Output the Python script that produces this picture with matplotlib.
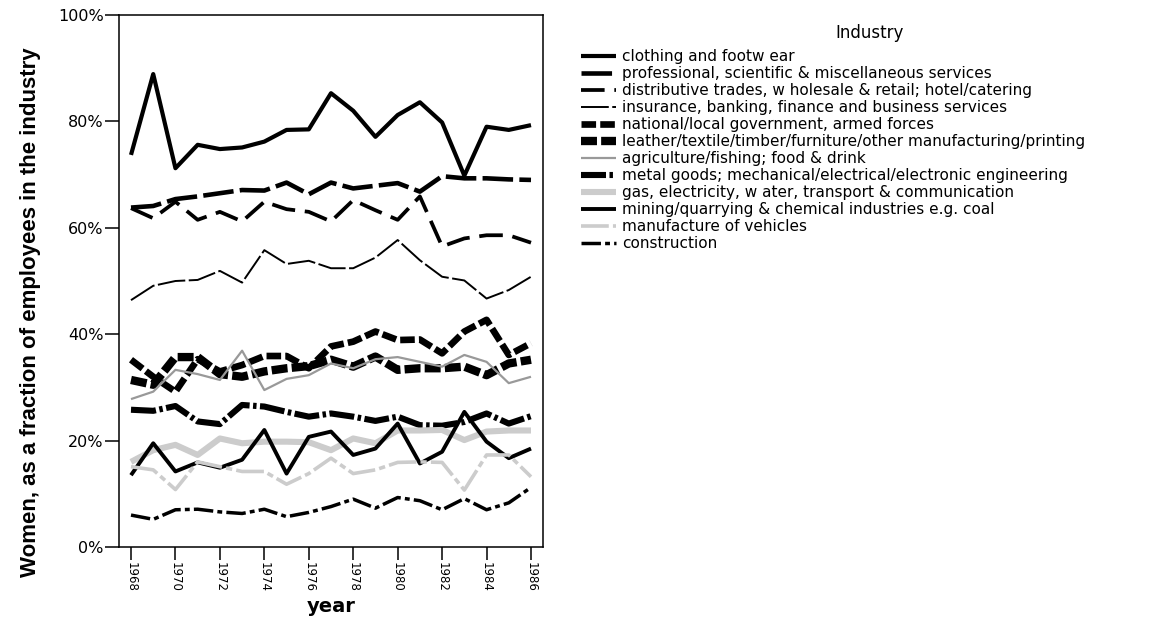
import matplotlib
matplotlib.use("Agg")
import matplotlib.pyplot as plt
from matplotlib.ticker import FuncFormatter, MultipleLocator

plt.rcParams['lines.scale_dashes'] = False
plt.rcParams['font.family'] = ['DejaVu Sans']

years = list(range(1968, 1987))

clothing = [73.7, 88.9, 71.2, 75.6, 74.8, 75.1, 76.2, 78.4, 78.5, 85.3, 82.0, 77.1, 81.2, 83.6, 79.8, 69.8, 79.0, 78.4, 79.3]
professional = [63.8, 64.1, 65.4, 65.9, 66.5, 67.1, 67.0, 68.5, 66.3, 68.5, 67.4, 67.9, 68.4, 66.8, 69.7, 69.3, 69.3, 69.1, 69.0]
distributive = [63.7, 61.8, 64.9, 61.5, 63.0, 61.2, 64.9, 63.5, 63.0, 61.2, 65.2, 63.3, 61.5, 65.9, 56.5, 58.0, 58.6, 58.6, 57.2]
insurance = [46.4, 49.1, 50.0, 50.2, 51.9, 49.7, 55.8, 53.2, 53.8, 52.4, 52.4, 54.4, 57.7, 53.9, 50.8, 50.1, 46.7, 48.3, 50.8]
national = [35.2, 32.0, 29.2, 35.3, 33.0, 34.2, 35.9, 35.9, 33.6, 37.7, 38.6, 40.5, 38.9, 39.0, 36.4, 40.5, 42.7, 36.1, 38.3]
leather = [31.4, 30.5, 35.7, 35.7, 32.5, 32.0, 33.0, 33.6, 34.0, 35.2, 33.9, 35.8, 33.3, 33.6, 33.6, 33.9, 32.3, 34.5, 35.2]
agriculture = [27.8, 29.2, 33.3, 32.5, 31.4, 36.9, 29.5, 31.6, 32.3, 34.5, 33.6, 35.3, 35.7, 34.8, 33.9, 36.1, 34.8, 30.8, 32.0]
metal = [25.8, 25.6, 26.5, 23.6, 23.1, 26.7, 26.4, 25.4, 24.5, 25.1, 24.5, 23.7, 24.5, 22.9, 22.8, 23.5, 25.1, 23.2, 24.6]
gas = [16.0, 18.2, 19.2, 17.3, 20.4, 19.5, 19.8, 19.8, 19.7, 18.2, 20.4, 19.5, 21.9, 21.9, 22.0, 20.1, 21.7, 21.9, 21.9]
mining = [13.5, 19.5, 14.2, 15.9, 14.9, 16.4, 22.0, 13.8, 20.7, 21.7, 17.3, 18.5, 23.2, 15.7, 17.9, 25.4, 19.8, 16.7, 18.5]
vehicles = [15.1, 14.5, 10.8, 16.0, 15.1, 14.2, 14.2, 11.8, 13.8, 16.7, 13.8, 14.5, 15.9, 16.0, 15.9, 10.7, 17.3, 17.3, 13.2]
construction = [6.0, 5.2, 7.0, 7.1, 6.6, 6.3, 7.1, 5.7, 6.5, 7.6, 9.0, 7.3, 9.3, 8.7, 7.0, 9.1, 7.0, 8.3, 11.2]

labels = [
    "clothing and footw ear",
    "professional, scientific & miscellaneous services",
    "distributive trades, w holesale & retail; hotel/catering",
    "insurance, banking, finance and business services",
    "national/local government, armed forces",
    "leather/textile/timber/furniture/other manufacturing/printing",
    "agriculture/fishing; food & drink",
    "metal goods; mechanical/electrical/electronic engineering",
    "gas, electricity, w ater, transport & communication",
    "mining/quarrying & chemical industries e.g. coal",
    "manufacture of vehicles",
    "construction",
]
series = [clothing, professional, distributive, insurance, national, leather,
          agriculture, metal, gas, mining, vehicles, construction]

styles = [
    dict(color="black", lw=3.0, ls="-"),
    dict(color="black", lw=3.3, ls=(0, (22, 4.5))),
    dict(color="black", lw=2.7, ls=(0, (17, 7))),
    dict(color="black", lw=1.4, ls=(0, (20, 2.5))),
    dict(color="black", lw=4.8, ls=(0, (10.5, 3))),
    dict(color="black", lw=6.0, ls=(0, (11.5, 3))),
    dict(color="#999999", lw=1.6, ls="-"),
    dict(color="black", lw=4.4, ls=(0, (18, 2.5, 2.5, 2.5))),
    dict(color="#cccccc", lw=4.4, ls="-"),
    dict(color="black", lw=2.8, ls="-"),
    dict(color="#cccccc", lw=2.6, ls=(0, (20, 3, 4.5, 3))),
    dict(color="black", lw=2.5, ls=(0, (14, 3, 3.5, 3))),
]

fig = plt.figure(figsize=(11.59, 6.17), dpi=100)
ax = fig.add_axes([119/1159, 1-547/617, (543-119)/1159, (547-15)/617])

for vals, lab, st in zip(series, labels, styles):
    ax.plot(years, vals, label=lab, solid_capstyle="butt", dash_capstyle="butt", **st)

ax.set_xlim(1967.46, 1986.54)
ax.set_ylim(0, 100)
ax.yaxis.set_major_locator(MultipleLocator(20))
ax.yaxis.set_major_formatter(FuncFormatter(lambda v, p: f"{int(v)}%"))
ax.set_xticks(years[::2])
ax.set_xticklabels([str(y) for y in years[::2]], rotation=270, fontsize=8.5)
ax.tick_params(axis="y", labelsize=11.5, length=10, width=1.1, direction="out", pad=1)
ax.tick_params(axis="x", length=9, width=1.1, direction="out", pad=2)
for s in ax.spines.values():
    s.set_linewidth(1.1)

fig.text(331/1159, 1-606/617, "year", ha="center", va="center",
         fontsize=14, fontweight="bold")
fig.text(31/1159, 1-312/617, "Women, as a fraction of employees in the industry",
         rotation=90, ha="center", va="center", fontsize=16, fontweight="bold",
         family=["Liberation Sans"])

fig.text(870/1159, 1-33/617, "Industry", ha="center", va="center", fontsize=12)
leg = fig.legend(loc="upper left", bbox_to_anchor=(581/1159, 1-49/617), frameon=False,
                 fontsize=11, handlelength=2.3, handletextpad=0.4, labelspacing=0.13,
                 borderaxespad=0, borderpad=0)

fig.savefig("out.png", dpi=100)
